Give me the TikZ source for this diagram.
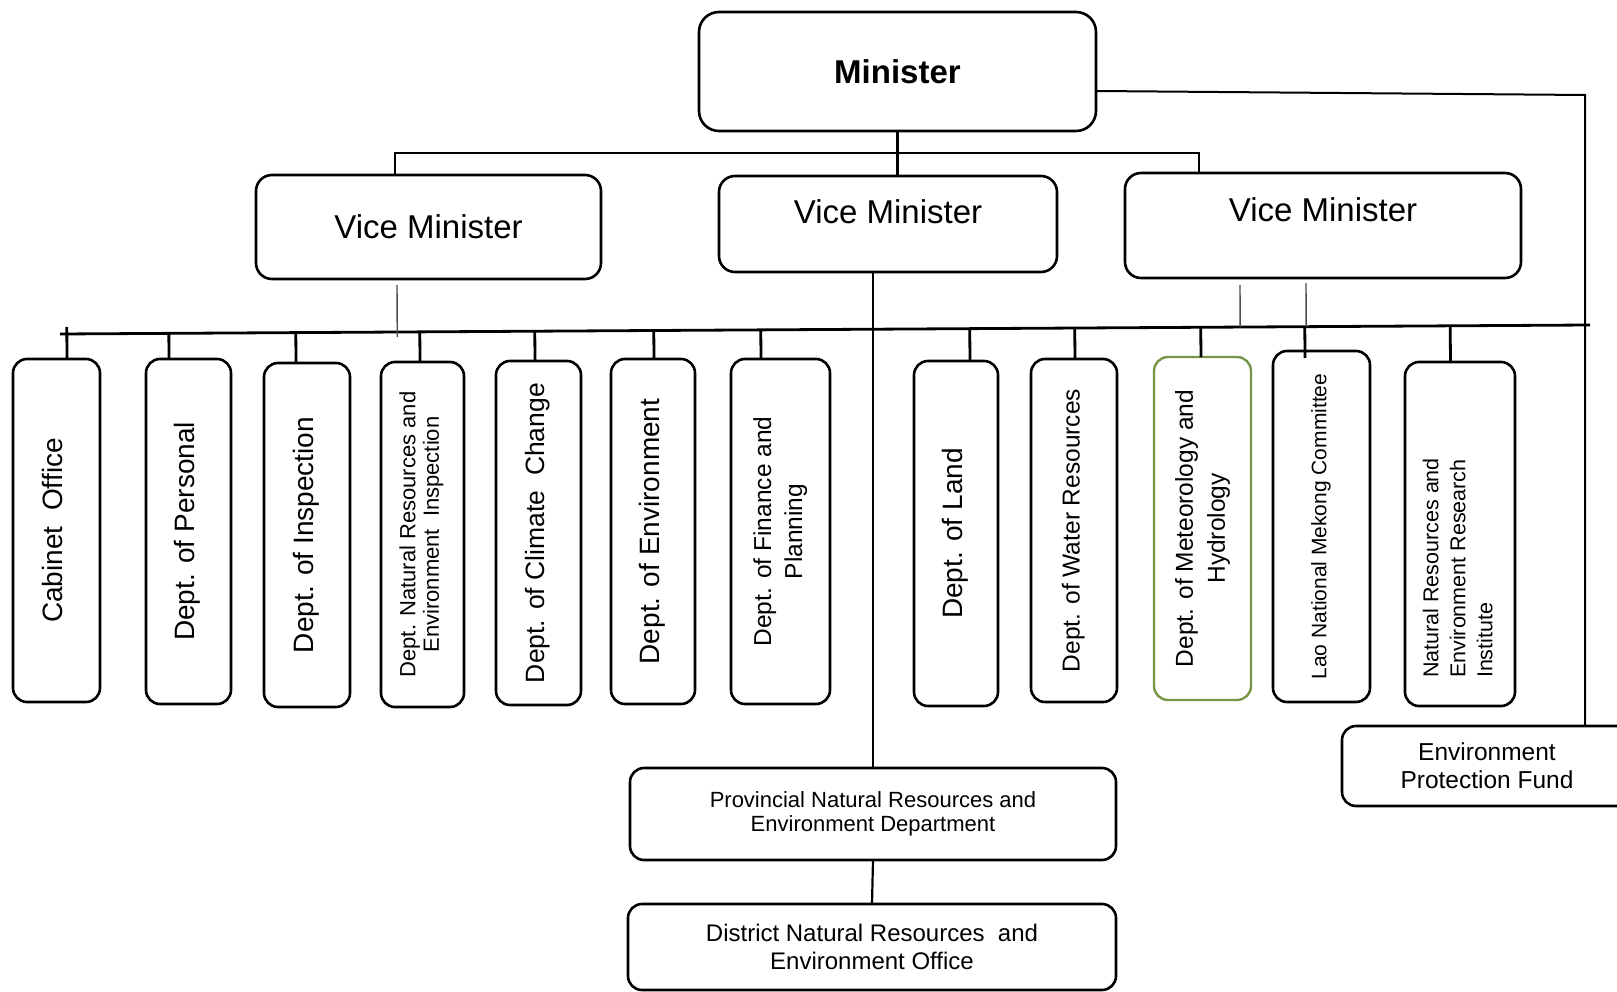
\documentclass[tikz,border=0pt]{standalone}
\usepackage{fontspec}
\setmainfont{Liberation Sans}
\usetikzlibrary{calc}
\definecolor{meteogreen}{RGB}{120,150,70}
\newcommand{\fsz}[2]{\fontsize{#1}{#2}\selectfont}
\newcommand{\rottext}[1]{\rotatebox{90}{\begin{tabular}{@{}c@{}}#1\end{tabular}}}
\begin{document}
\begin{tikzpicture}[x=1pt,y=-1pt,
  box/.style={draw, line width=2.6pt, rounded corners=14pt, inner sep=0pt, outer sep=0pt, align=center, fill=white},
  bigbox/.style={box, rounded corners=20pt},
  busline/.style={line width=2.8pt},
  midline/.style={line width=2.2pt},
  thinline/.style={line width=1.4pt, black!70}]
\useasboundingbox (0,0) rectangle (1617,992);
\clip (0,0) rectangle (1617,992);

% top level
\node[bigbox, font=\fsz{33}{38}\bfseries, minimum width=397pt, minimum height=119pt] (minister) at (897.5,71.5) {Minister};
\node[box, font=\fsz{33}{38}, rounded corners=16pt, minimum width=345pt, minimum height=104pt] (vm1) at (428.5,227) {Vice Minister};
\node[box, font=\fsz{33}{38}, rounded corners=16pt, minimum width=338pt, minimum height=96pt, text height=24pt, text depth=24pt] (vm2) at (888,224) {Vice Minister};
\node[box, font=\fsz{33}{38}, rounded corners=16pt, minimum width=396pt, minimum height=105pt, text height=24pt, text depth=31pt] (vm3) at (1323,225.5) {Vice Minister};

% departments
\node[box, font=\fsz{28}{32}, minimum width=87pt, minimum height=343pt] (cab) at (56.5,530.5) {\rottext{Cabinet\ \ Office}};
\node[box, font=\fsz{28}{32}, minimum width=85pt, minimum height=345pt] (pers) at (188.5,531.5) {\rottext{Dept. of Personal}};
\node[box, font=\fsz{28}{32}, minimum width=86pt, minimum height=344pt] (insp) at (307,535) {\rottext{Dept. of Inspection}};
\node[box, font=\fsz{22}{23.5}, minimum width=83pt, minimum height=345pt] (nrei) at (422.5,534.5) {\rottext{Dept. Natural Resources and\\Environment\ \ Inspection}};
\node[box, font=\fsz{26.5}{30}, minimum width=85pt, minimum height=344pt] (clim) at (538.5,533) {\rottext{Dept. of Climate\ \ Change}};
\node[box, font=\fsz{28}{32}, minimum width=84pt, minimum height=345pt] (env) at (653,531.5) {\rottext{Dept. of Environment}};
\node[box, font=\fsz{24.5}{31}, minimum width=99pt, minimum height=345pt] (fin) at (780.5,531.5) {\rottext{Dept. of Finance and\\Planning}};
\node[box, font=\fsz{28}{32}, minimum width=84pt, minimum height=345pt] (land) at (956,533.5) {\rottext{Dept. of Land}};
\node[box, font=\fsz{24.5}{28}, minimum width=86pt, minimum height=343pt] (water) at (1074,530.5) {\rottext{Dept. of Water Resources}};
\node[box, font=\fsz{24.5}{32}, draw=meteogreen, line width=2.4pt, minimum width=97pt, minimum height=343pt] (meteo) at (1202.5,528.5) {\rottext{Dept. of Meteorology and\\Hydrology}};
\node[box, font=\fsz{21}{24}, minimum width=97pt, minimum height=351pt] (lao) at (1321.5,526.5) {\rottext{Lao National Mekong Committee}};
\node[box, font=\fsz{21.5}{27}, minimum width=110pt, minimum height=344pt] (nri) at (1460,534) {\rotatebox{90}{\begin{tabular}{@{}l@{\hspace{68pt}}}Natural Resources and\\Environment Research\\Institute\end{tabular}}};

% lower boxes
\node[box, font=\fsz{24.5}{28}, minimum width=290pt, minimum height=80pt] (fund) at (1487,766) {Environment\\Protection Fund};
\node[box, font=\fsz{22}{24.5}, minimum width=486pt, minimum height=92pt] (prov) at (873,814) {Provincial Natural Resources and\\Environment Department};
\node[box, font=\fsz{24}{28}, minimum width=488pt, minimum height=86pt] (dist) at (872,947) {District Natural Resources\ \ and\\Environment Office};

% top connectors
\coordinate (tbL) at (395,153);
\coordinate (tbR) at (1199,153);
\draw[midline] (minister.south) -- (minister.south |- vm2.north);
\draw[line width=2pt] (vm1.north -| tbL) -- (tbL) -- (tbR) -- (vm3.north -| tbR);

% minister to fund
\coordinate (rc) at (1585,95);
\draw[line width=2pt] ([yshift=-19.5pt]minister.east) -- (rc) -- (rc |- fund.north);

% main bus
\coordinate (bL) at (60,334);
\coordinate (bR) at (1590,325);
\draw[busline] (bL) -- (bR);

\foreach \n/\dx in {pers/-19.5, insp/-11, nrei/-2.5, clim/-3.5, env/1, fin/-19.5, land/14, water/1, meteo/-1.5, nri/-9.5}{
  \coordinate (d\n) at ([xshift=\dx pt]\n.north);
  \draw[busline] (d\n) -- ($(bL)!(d\n)!(bR)$);
}
\coordinate (dcab) at ([xshift=10.5pt]cab.north);
\draw[busline, shorten >=-7pt] (dcab) -- ($(bL)!(dcab)!(bR)$);

% vice minister links
\coordinate (v1s) at ([xshift=-31.5pt,yshift=-6pt]vm1.south);
\draw[thinline, shorten >=-5pt] (v1s) -- ($(bL)!(v1s)!(bR)$);
\coordinate (v3a) at ([xshift=-83pt,yshift=-7pt]vm3.south);
\draw[thinline] (v3a) -- ($(bL)!(v3a)!(bR)$);
\coordinate (v3b) at ([xshift=-17pt,yshift=-5pt]vm3.south);
\draw[thinline] (v3b) -- ($(bL)!(v3b)!(bR)$);
\coordinate (dlao) at ([xshift=-16.5pt]lao.north);
\draw[busline, shorten <=-7pt] (dlao) -- ($(bL)!(dlao)!(bR)$);

\draw[midline] (vm2.south -| prov.north) -- (prov.north);
\draw[midline] (prov.south) -- (dist.north);
\end{tikzpicture}
\end{document}
